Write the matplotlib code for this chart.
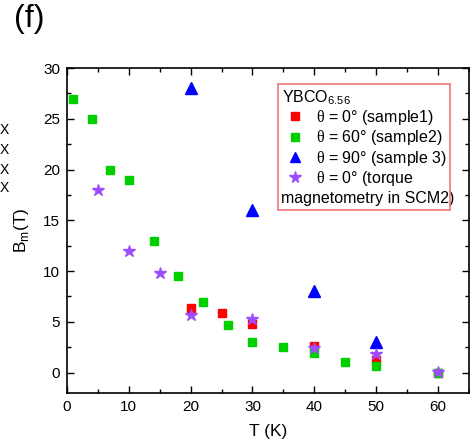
import matplotlib
matplotlib.use("Agg")
import matplotlib.pyplot as plt
from matplotlib.patches import Rectangle
from matplotlib.ticker import MultipleLocator

plt.rcParams["font.family"] = ["Liberation Sans", "DejaVu Sans"]
plt.rcParams["mathtext.fontset"] = "custom"
plt.rcParams["mathtext.rm"] = "Liberation Serif"
plt.rcParams["mathtext.sf"] = "Liberation Sans"

# critical field data for YBCO6.56
t_s1 = [20, 25, 30, 40, 50, 60]
b_s1 = [6.4, 5.9, 4.8, 2.6, 1.2, 0.0]

t_s2 = [1, 4, 7, 10, 14, 18, 22, 26, 30, 35, 40, 45, 50, 60]
b_s2 = [27.0, 25.0, 20.0, 19.0, 13.0, 9.5, 7.0, 4.7, 3.0, 2.5, 1.9, 1.0, 0.7, 0.0]

t_s3 = [20, 30, 40, 50]
b_s3 = [28.0, 16.0, 8.0, 3.0]

t_tq = [5, 10, 15, 20, 30, 40, 50, 60]
b_tq = [18.0, 12.0, 9.8, 5.7, 5.3, 2.4, 1.8, 0.05]

labels = [
    r"$\mathrm{\theta}$ = 0° (sample1)",
    r"$\mathrm{\theta}$ = 60° (sample2)",
    r"$\mathrm{\theta}$ = 90° (sample 3)",
    r"$\mathrm{\theta}$ = 0° (torque",
]
label_tail = "magnetometry in SCM2)"

fig = plt.figure(figsize=(4.7, 4.42), dpi=100)
ax = fig.add_axes([0.1426, 0.111, 0.855, 0.735])

ax.plot(t_s1, b_s1, "s", color="#ff0000", ms=6, ls="none", label=labels[0], zorder=3)
ax.plot(t_s2, b_s2, "s", color="#00d000", ms=6, ls="none", label=labels[1], zorder=3)
ax.plot(t_s3, b_s3, "^", color="#0000ff", ms=8, ls="none", label=labels[2], zorder=3)
ax.plot(t_tq, b_tq, "*", color="#9d4cff", ms=9, ls="none", label=labels[3], zorder=4)

ax.set_xlim(0, 65)
ax.set_ylim(-2, 30)
ax.xaxis.set_major_locator(MultipleLocator(10))
ax.xaxis.set_minor_locator(MultipleLocator(5))
ax.yaxis.set_major_locator(MultipleLocator(5))
ax.yaxis.set_minor_locator(MultipleLocator(2.5))
ax.tick_params(which="both", direction="in", top=True, right=True, labelsize=11, width=1)
ax.tick_params(which="major", length=5, pad=5)
ax.tick_params(which="minor", length=3)
for s in ax.spines.values():
    s.set_linewidth(1.2)

ax.set_xlabel("T (K)", fontsize=12.5, labelpad=7)
ax.set_ylabel(r"B$_{\mathsf{m}}$(T)", fontsize=12.5, labelpad=9)

# legend without frame; the wrapped line and the box are added separately
leg = ax.legend(title=r"YBCO$_{\mathsf{6.56}}$", loc="upper left",
                bbox_to_anchor=(0.525, 0.951), fontsize=11.5, title_fontsize=11.5,
                frameon=False, handletextpad=0.5, handlelength=1.6,
                borderpad=0.25, labelspacing=0.08, borderaxespad=0,
                markerscale=0.95)
leg._legend_box.align = "left"
ax.text(0.532, 0.597, label_tail, transform=ax.transAxes, fontsize=11.5,
        va="center", ha="left", zorder=5)
ax.add_patch(Rectangle((0.525, 0.563), 0.428, 0.388, transform=ax.transAxes,
                       fill=False, edgecolor="#f07878", lw=1.2, zorder=5))

fig.text(0.03, 0.992, "(f)", fontsize=23, va="top")
for yy in [0.706, 0.661, 0.616, 0.574]:
    fig.text(0.0, yy, "X", fontsize=10, va="center", ha="left")

fig.savefig("out.png", dpi=100)
